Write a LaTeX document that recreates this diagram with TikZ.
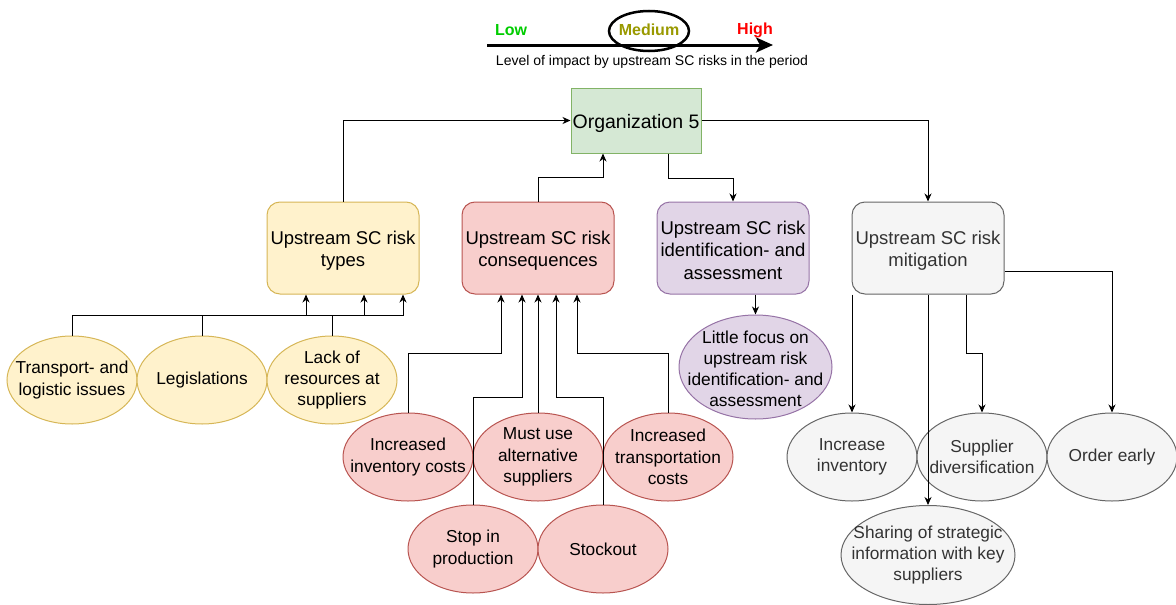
\documentclass[tikz,border=0pt]{standalone}
\usepackage{fontspec}
\setmainfont{Liberation Sans}
\usetikzlibrary{arrows.meta,shapes.geometric}
\definecolor{ylwF}{HTML}{FFF2CC}\definecolor{ylwD}{HTML}{D6B656}
\definecolor{redF}{HTML}{F8CECC}\definecolor{redD}{HTML}{B85450}
\definecolor{purF}{HTML}{E1D5E7}\definecolor{purD}{HTML}{9673A6}
\definecolor{gryF}{HTML}{F5F5F5}\definecolor{gryD}{HTML}{666666}\definecolor{gryT}{HTML}{333333}
\definecolor{grnF}{HTML}{D5E8D4}\definecolor{grnD}{HTML}{82B366}
\definecolor{lowC}{HTML}{00CC00}\definecolor{medC}{HTML}{999900}\definecolor{highC}{HTML}{FF0000}
\begin{document}
\begin{tikzpicture}[x=1pt,y=-1pt,
  base/.style={font=\fontsize{18.5}{22.5}\selectfont, align=center},
  box/.style={base, rectangle, rounded corners=13pt, minimum width=152pt, minimum height=92pt, inner sep=0pt, line width=1pt},
  boxtext/.style={base, inner sep=0pt},
  oval/.style={ellipse, minimum width=130pt, minimum height=88pt, inner sep=0pt, line width=1pt},
  lbl/.style={font=\fontsize{17.3}{21.2}\selectfont, align=center, inner sep=0pt},
  ylw/.style={fill=ylwF, draw=ylwD},
  rdd/.style={fill=redF, draw=redD},
  pur/.style={fill=purF, draw=purD},
  gry/.style={fill=gryF, draw=gryD},
  conn/.style={draw=black, line width=1pt, -{Stealth[length=8pt,width=7pt,inset=2.5pt]}}
]
\useasboundingbox (0,0) rectangle (1176,605);

% impact scale
\coordinate (scaleL) at (487,45);
\coordinate (scaleR) at (773,45);
\draw[line width=3pt, -{Stealth[length=17pt,width=15pt,inset=4pt]}] (scaleL) -- (scaleR);
\node[ellipse, draw=black, line width=2.5pt, minimum width=80pt, minimum height=40pt, inner sep=0pt] (medring) at (649,31) {};
\node[font=\fontsize{16}{18}\selectfont\bfseries, text=lowC, inner sep=0pt] (low) at (511,30) {Low};
\node[font=\fontsize{16}{18}\selectfont\bfseries, text=medC, inner sep=0pt] (med) at (649,30) {Medium};
\node[font=\fontsize{16}{18}\selectfont\bfseries, text=highC, inner sep=0pt] (high) at (755,30) {High};
\node[font=\fontsize{14}{16}\selectfont, inner sep=0pt] (caption) at (652,62) {Level of impact by upstream SC risks in the period};

% central organisation
\node[rectangle, fill=grnF, draw=grnD, line width=1pt, minimum width=130pt, minimum height=65pt, inner sep=0pt] (org) at (636,120.5) {};
\node[font=\fontsize{19.5}{23}\selectfont, inner sep=0pt] (orgl) at ([yshift=-2.5pt]org.center) {Organization 5};

% category boxes
\node[box, ylw] (types) at (343,248) {};
\node[boxtext] (typesl) at ([yshift=-2.5pt]types.center) {Upstream SC risk\\types};
\node[box, rdd] (cons) at (538,248) {};
\node[boxtext] (consl) at ([yshift=-2.5pt]cons.center) {Upstream SC risk\\consequences};
\node[box, pur] (ident) at (733,248) {};
\node[boxtext] (identl) at ([yshift=-2pt]ident.center) {Upstream SC risk\\identification- and\\assessment};
\node[box, gry] (miti) at (928,248) {};
\node[boxtext, text=gryT] (mitil) at ([yshift=-2.5pt]miti.center) {Upstream SC risk\\mitigation};

% risk types
\node[oval, ylw] (t1) at (72,380) {};
\node[lbl] (t1l) at (t1) {Transport- and\\logistic issues};
\node[oval, ylw] (t2) at (202,380) {};
\node[lbl] (t2l) at (t2) {Legislations};
\node[oval, ylw] (t3) at (332,380) {};
\node[lbl] (t3l) at (t3) {Lack of\\resources at\\suppliers};

% consequences
\node[oval, rdd] (c1) at (408,457) {};
\node[lbl] (c1l) at (c1) {Increased\\inventory costs};
\node[oval, rdd] (c2) at (538,457) {};
\node[lbl] (c2l) at (c2) {Must use\\alternative\\suppliers};
\node[oval, rdd] (c3) at (668,457) {};
\node[lbl] (c3l) at (c3) {Increased\\transportation\\costs};
\node[oval, rdd] (c4) at (473,549) {};
\node[lbl] (c4l) at (c4) {Stop in\\production};
\node[oval, rdd] (c5) at (603,549) {};
\node[lbl] (c5l) at (c5) {Stockout};

% identification and assessment
\node[oval, pur, minimum width=153pt, minimum height=104pt] (focus) at (755.5,367) {};
\node[lbl] (focusl) at ([yshift=-2pt]focus.center) {Little focus on\\upstream risk\\identification- and\\assessment};

% mitigation
\node[oval, gry] (m1) at (852,457) {};
\node[lbl, text=gryT] (m1l) at (m1) {Increase\\inventory};
\node[oval, gry] (m2) at (982,457) {};
\node[lbl, text=gryT] (m2l) at (m2) {Supplier\\diversification};
\node[oval, gry] (m3) at (1112,457) {};
\node[lbl, text=gryT] (m3l) at (m3) {Order early};
\node[oval, gry, minimum width=174pt, minimum height=99pt] (m4) at (928,555) {};
\node[lbl, text=gryT] (m4l) at (m4) {Sharing of strategic\\information with key\\suppliers};

% connectors to and from the organisation
\draw[conn] (types.north) |- (org.west);
\draw[conn] (cons.north) -- ++(0,-24) -| ([xshift=-33pt]org.south);
\draw[conn] ([xshift=32pt]org.south) -- ++(0,25) -| (ident.north);
\draw[conn] (org.east) -| (miti.north);

% risk types
\draw[conn] (t1.north) -- ++(0,-20) -| ([xshift=-37pt]types.south);
\draw[conn] (t2.north) -- ++(0,-20) -| ([xshift=21pt]types.south);
\draw[conn] (t3.north) -- ++(0,-20) -| ([xshift=60pt]types.south);

% consequences
\draw[conn] (c1.north) -- ++(0,-59) -| ([xshift=-37pt]cons.south);
\draw[conn] (c4.north) -- ++(0,-107) -| ([xshift=-16pt]cons.south);
\draw[conn] (c2.north) -- (cons.south);
\draw[conn] (c5.north) -- ++(0,-107) -| ([xshift=18pt]cons.south);
\draw[conn] (c3.north) -- ++(0,-59) -| ([xshift=39pt]cons.south);

% identification
\draw[conn] (ident.south -| focus.north) -- (focus.north);

% mitigation
\draw[conn] (miti.south -| m1.north) -- (m1.north);
\draw[conn] (miti.south) -- (m4.north);
\draw[conn] ([xshift=38pt]miti.south) -- ++(0,59) -| (m2.north);
\draw[conn] ([yshift=-23pt]miti.east) -| (m3.north);
\end{tikzpicture}
\end{document}
